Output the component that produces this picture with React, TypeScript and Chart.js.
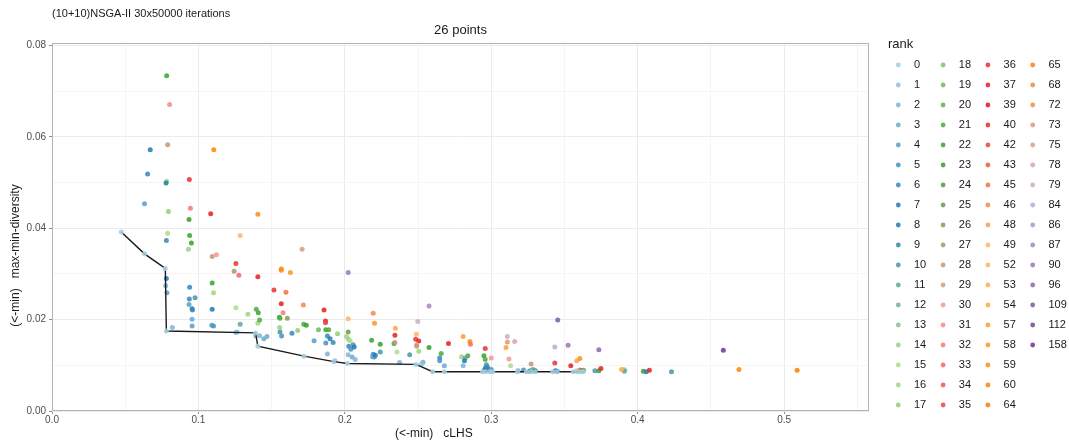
import React, { useEffect, useRef } from "react";
import { Chart, registerables } from "chart.js";

Chart.register(...registerables);

// ---------------- data ----------------
const mainTitle = "(10+10)NSGA-II 30x50000 iterations";
const subTitle = "26 points";
const xTitle = "(<-min)   cLHS                ";
const yTitle = "(<-min)   max-min-diversity                 ";
const legendTitle = "rank";

const rankLevels = [
  0, 1, 2, 3, 4, 5, 6, 7, 8, 9, 10, 11, 12, 13, 14, 15, 16, 17,
  18, 19, 20, 21, 22, 23, 24, 25, 26, 27, 28, 29, 30, 31, 32, 33, 34, 35,
  36, 37, 39, 40, 42, 43, 45, 46, 48, 49, 52, 53, 54, 57, 58, 59, 60, 64,
  65, 68, 72, 73, 75, 78, 79, 84, 86, 87, 90, 96, 109, 112, 158,
];

const xTickValues = [0, 0.1, 0.2, 0.3, 0.4, 0.5];
const yTickValues = [0, 0.02, 0.04, 0.06, 0.08];

// Pareto front (rank 0) connected by the black line
const frontX = [
  0.0473, 0.0632, 0.0774, 0.0781, 0.139, 0.1406, 0.1721, 0.1925, 0.2018, 0.2486,
  0.26, 0.268, 0.294, 0.296, 0.299, 0.301, 0.318, 0.324, 0.327, 0.33,
  0.342, 0.345, 0.356, 0.359, 0.361, 0.3628,
];
const frontY = [
  0.0392, 0.0344, 0.0312, 0.0175, 0.0171, 0.0142, 0.012, 0.0108, 0.0104, 0.0102,
  0.0086, 0.0086, 0.0086, 0.0086, 0.0086, 0.0086, 0.0086, 0.0086, 0.0086, 0.0086,
  0.0086, 0.0086, 0.0086, 0.0086, 0.0086, 0.0086,
];

// dominated solutions
const ptX = [
  0.0783, 0.0803, 0.0671, 0.079, 0.1105, 0.0653, 0.0783, 0.0779, 0.0938, 0.0632,
  0.0795, 0.0945, 0.1084, 0.1406, 0.0936, 0.079, 0.094, 0.0781, 0.0952, 0.0932,
  0.1285, 0.1094, 0.1123, 0.1256, 0.1244, 0.1276, 0.1406, 0.1708, 0.1566, 0.1566,
  0.1628, 0.0781, 0.0776, 0.0785, 0.094, 0.1094, 0.1103, 0.1516, 0.1598, 0.1717,
  0.0938, 0.0977, 0.0936, 0.0957, 0.0959, 0.1094, 0.1256, 0.1338, 0.1395, 0.1409,
  0.1566, 0.1578, 0.1858, 0.0957, 0.0957, 0.1091, 0.1103, 0.0822, 0.1285, 0.1256,
  0.1264, 0.1406, 0.1418, 0.1553, 0.1557, 0.1555, 0.1607, 0.1557, 0.1568, 0.1639,
  0.1678, 0.1719, 0.1737, 0.182, 0.187, 0.189, 0.1868, 0.1868, 0.195, 0.139,
  0.1418, 0.1447, 0.1468, 0.179, 0.187, 0.1881, 0.1899, 0.192, 0.1881, 0.2023,
  0.2023, 0.2023, 0.2011, 0.2025, 0.2036, 0.2027, 0.2041, 0.2057, 0.2064, 0.2023,
  0.205, 0.2071, 0.1932, 0.2194, 0.2203, 0.2183, 0.2242, 0.2242, 0.2194, 0.2201,
  0.219, 0.2208, 0.2345, 0.2342, 0.2336, 0.2342, 0.2356, 0.2374, 0.2443, 0.2498,
  0.2489, 0.2484, 0.2505, 0.2491, 0.2491, 0.2505, 0.2575, 0.2575, 0.2534, 0.2525,
  0.2708, 0.2658, 0.2648, 0.2648, 0.268, 0.2808, 0.2854, 0.2858, 0.2797, 0.2822,
  0.284, 0.2817, 0.2808, 0.2959, 0.295, 0.2959, 0.3, 0.2966, 0.296, 0.2977,
  0.3, 0.2973, 0.2954, 0.311, 0.311, 0.316, 0.3101, 0.3121, 0.3132, 0.3183,
  0.3221, 0.3272, 0.3269, 0.3285, 0.3301, 0.326, 0.3454, 0.3434, 0.3525, 0.3434,
  0.3438, 0.345, 0.3543, 0.3584, 0.3605, 0.3582, 0.3605, 0.3616, 0.363, 0.3735,
  0.3708, 0.3735, 0.3749, 0.3902, 0.3913, 0.3909, 0.3889, 0.4039, 0.4059, 0.408,
  0.4231, 0.4585, 0.4692, 0.5089,
];
const ptY = [
  0.0734, 0.0671, 0.0572, 0.0583, 0.0572, 0.0519, 0.0503, 0.0499, 0.0507, 0.0454,
  0.0437, 0.0444, 0.0432, 0.0431, 0.0419, 0.0389, 0.0384, 0.0373, 0.0368, 0.0354,
  0.0384, 0.0338, 0.0342, 0.0323, 0.0306, 0.0297, 0.0294, 0.0354, 0.0311, 0.0308,
  0.0303, 0.029, 0.0274, 0.0259, 0.0271, 0.028, 0.0259, 0.0265, 0.026, 0.0232,
  0.0245, 0.0248, 0.0233, 0.0224, 0.0221, 0.0223, 0.0226, 0.0212, 0.0223, 0.0215,
  0.0235, 0.0215, 0.0221, 0.0201, 0.0186, 0.0188, 0.0186, 0.0183, 0.019, 0.0172,
  0.0173, 0.0192, 0.0199, 0.0205, 0.0203, 0.0183, 0.0203, 0.0173, 0.0164, 0.017,
  0.0176, 0.019, 0.0188, 0.0178, 0.0178, 0.0178, 0.0197, 0.0193, 0.0169, 0.0164,
  0.0165, 0.0158, 0.0163, 0.0154, 0.0149, 0.0164, 0.0158, 0.015, 0.0125, 0.0303,
  0.0202, 0.0173, 0.0163, 0.0157, 0.0154, 0.0142, 0.0135, 0.0145, 0.014, 0.0123,
  0.0118, 0.0113, 0.011, 0.0214, 0.0192, 0.0155, 0.0146, 0.0129, 0.0124, 0.0118,
  0.0119, 0.0122, 0.0181, 0.0166, 0.0148, 0.015, 0.0129, 0.0106, 0.0123, 0.0196,
  0.0168, 0.0157, 0.0153, 0.0145, 0.0142, 0.0131, 0.023, 0.0139, 0.0107, 0.0103,
  0.0148, 0.0126, 0.0116, 0.011, 0.0099, 0.0163, 0.0152, 0.0146, 0.0119, 0.0116,
  0.0121, 0.011, 0.0099, 0.0137, 0.0121, 0.0113, 0.0116, 0.0101, 0.0094, 0.0092,
  0.0091, 0.0097, 0.009, 0.0163, 0.0151, 0.0152, 0.0139, 0.0114, 0.0099, 0.0088,
  0.009, 0.0103, 0.0088, 0.0091, 0.0088, 0.0087, 0.0199, 0.014, 0.0144, 0.0105,
  0.0088, 0.0087, 0.0099, 0.011, 0.0115, 0.0088, 0.009, 0.0088, 0.0089, 0.0134,
  0.0088, 0.0088, 0.0093, 0.0091, 0.009, 0.0087, 0.0091, 0.0087, 0.0086, 0.0089,
  0.0086, 0.0133, 0.0091, 0.0089,
];
const ptRank = [
  22, 31, 7, 28, 60, 6, 16, 8, 36, 4,
  17, 32, 37, 59, 23, 15, 22, 9, 23, 14,
  49, 28, 30, 36, 27, 33, 37, 29, 60, 59,
  58, 7, 2, 4, 6, 22, 16, 36, 45, 46,
  6, 10, 4, 7, 6, 7, 15, 16, 21, 22,
  37, 32, 37, 3, 4, 4, 5, 2, 11, 2,
  1, 16, 21, 22, 21, 14, 26, 10, 5, 6,
  17, 21, 23, 19, 22, 21, 37, 35, 17, 1,
  2, 3, 3, 4, 5, 6, 7, 6, 2, 90,
  49, 25, 16, 14, 15, 6, 5, 10, 7, 2,
  3, 2, 1, 46, 58, 22, 23, 10, 6, 5,
  4, 7, 54, 37, 23, 28, 15, 2, 10, 79,
  52, 36, 37, 31, 28, 16, 87, 23, 3, 1,
  37, 21, 6, 5, 3, 57, 59, 45, 16, 11,
  21, 7, 2, 36, 22, 21, 30, 10, 6, 7,
  5, 9, 8, 79, 73, 78, 57, 30, 15, 3,
  5, 28, 6, 20, 7, 6, 109, 84, 90, 36,
  7, 8, 37, 48, 59, 15, 45, 37, 21, 96,
  10, 22, 37, 52, 16, 11, 53, 22, 7, 37,
  10, 158, 60, 64,
];

// ---------------- styling ----------------
const paired = [
  "#A6CEE3", "#1F78B4", "#B2DF8A", "#33A02C", "#FB9A99",
  "#E31A1C", "#FDBF6F", "#FF7F00", "#CAB2D6", "#6A3D9A",
];
const FONT = '"Liberation Sans", Arial, Helvetica, sans-serif';
const X_MAX = 0.558;
const Y_MAX = 0.0805;

function hexToRgb(h: string) {
  const n = parseInt(h.slice(1), 16);
  return [(n >> 16) & 255, (n >> 8) & 255, n & 255];
}

function rankColor(rank: number, alpha = 0.88) {
  const idx = rankLevels.indexOf(rank);
  const t = (idx / (rankLevels.length - 1)) * (paired.length - 1);
  const i0 = Math.min(Math.floor(t), paired.length - 2);
  const f = t - i0;
  const a = hexToRgb(paired[i0]);
  const b = hexToRgb(paired[i0 + 1]);
  const c = a.map((v, k) => Math.round(v + (b[k] - v) * f));
  return `rgba(${c[0]},${c[1]},${c[2]},${alpha})`;
}

const near = (a: number, b: number) => Math.abs(a - b) < 1e-6;
const isXMajor = (v: number) => xTickValues.some((t) => near(t, v));
const isYMajor = (v: number) => yTickValues.some((t) => near(t, v));

const panelBorder = {
  id: "panelBorder",
  beforeDatasetsDraw(chart: any) {
    const { ctx, chartArea: a } = chart;
    ctx.save();
    ctx.strokeStyle = "#b3b3b3";
    ctx.lineWidth = 1;
    ctx.strokeRect(Math.round(a.left) + 0.5, Math.round(a.top) + 0.5, Math.round(a.right - a.left) - 1, Math.round(a.bottom - a.top) - 1);
    ctx.restore();
  },
};

const rankLegend = {
  id: "rankLegend",
  afterDraw(chart: any) {
    const { ctx, chartArea } = chart;
    const x0 = chartArea.right;
    ctx.save();
    ctx.textBaseline = "middle";
    ctx.textAlign = "left";
    ctx.fillStyle = "#1a1a1a";
    ctx.font = `13px ${FONT}`;
    ctx.fillText(legendTitle, x0 + 19, 44);
    ctx.font = `11px ${FONT}`;
    rankLevels.forEach((r, i) => {
      const col = Math.floor(i / 18);
      const row = i % 18;
      const cx = x0 + 29.3 + col * 44.8;
      const cy = 65 + row * 20;
      ctx.fillStyle = rankColor(r);
      ctx.beginPath();
      ctx.arc(cx, cy, 2.4, 0, Math.PI * 2);
      ctx.fill();
      ctx.fillStyle = "#1a1a1a";
      ctx.fillText(String(r), cx + 15.7, cy);
    });
    ctx.restore();
  },
};

export default function App() {
  const ref = useRef<HTMLCanvasElement | null>(null);

  useEffect(() => {
    document.body.style.margin = "0";
    const canvas = ref.current;
    if (!canvas) return;

    const points = ptX.map((x, i) => ({ x, y: ptY[i] }));
    const frontPts = frontX.map((x, i) => ({ x, y: frontY[i] }));
    const colors = ptRank.map((r) => rankColor(r));

    const chart = new Chart(canvas, {
      type: "scatter",
      data: {
        datasets: [
          {
            label: "front",
            data: frontPts,
            showLine: true,
            borderColor: "#1a1a1a",
            borderWidth: 1.4,
            pointRadius: 2.5,
            pointBackgroundColor: rankColor(0),
            pointBorderWidth: 0,
            order: 0,
          } as any,
          {
            label: "solutions",
            data: points,
            pointRadius: 2.5,
            pointBackgroundColor: colors,
            pointBorderWidth: 0,
            showLine: false,
            order: 1,
          } as any,
        ],
      },
      options: {
        animation: false,
        responsive: false,
        events: [],
        layout: { padding: { right: 200, left: 0, top: 0, bottom: 0 } },
        plugins: {
          legend: { display: false },
          tooltip: { enabled: false },
          title: {
            display: true,
            text: mainTitle,
            align: "start",
            fullSize: false,
            color: "#1a1a1a",
            font: { family: FONT, size: 11, weight: "normal" },
            padding: { top: 7, bottom: 1 },
          },
          subtitle: {
            display: true,
            text: subTitle,
            align: "center",
            fullSize: false,
            color: "#1a1a1a",
            font: { family: FONT, size: 13, weight: "normal" },
            padding: { top: 1.5, bottom: 5 },
          },
        },
        scales: {
          x: {
            type: "linear",
            min: 0,
            max: X_MAX,
            afterFit: (s: any) => {
              s.height = 34;
            },
            border: { display: false },
            grid: {
              color: (c: any) => (c.tick && isXMajor(c.tick.value) ? "#ebebeb" : "#f5f5f5"),
              tickColor: (c: any) => (c.tick && isXMajor(c.tick.value) ? "#8c8c8c" : "rgba(0,0,0,0)"),
              tickLength: 3,
              lineWidth: 1,
            },
            ticks: {
              stepSize: 0.05,
              includeBounds: false,
              autoSkip: false,
              maxRotation: 0,
              padding: 0,
              color: "#4d4d4d",
              font: { family: FONT, size: 10 },
              callback: (v: any) => (isXMajor(Number(v)) ? Number(v).toFixed(1) : ""),
            },
            title: {
              display: true,
              text: xTitle,
              color: "#1a1a1a",
              font: { family: FONT, size: 12 },
              padding: { top: 0, bottom: 4 },
            },
          },
          y: {
            type: "linear",
            min: 0,
            max: Y_MAX,
            afterFit: (s: any) => {
              s.width = 52;
            },
            border: { display: false },
            grid: {
              color: (c: any) => (c.tick && isYMajor(c.tick.value) ? "#ebebeb" : "#f5f5f5"),
              tickColor: (c: any) => (c.tick && isYMajor(c.tick.value) ? "#8c8c8c" : "rgba(0,0,0,0)"),
              tickLength: 3,
              lineWidth: 1,
            },
            ticks: {
              stepSize: 0.01,
              includeBounds: false,
              autoSkip: false,
              padding: 3,
              color: "#4d4d4d",
              font: { family: FONT, size: 10 },
              callback: (v: any) => (isYMajor(Number(v)) ? Number(v).toFixed(2) : ""),
            },
            title: {
              display: true,
              text: yTitle,
              color: "#1a1a1a",
              font: { family: FONT, size: 12 },
              padding: { top: 8, bottom: 0 },
            },
          },
        },
      },
      plugins: [panelBorder, rankLegend],
    });

    return () => chart.destroy();
  }, []);

  return <canvas ref={ref} width={1069} height={445} style={{ display: "block" }} />;
}
